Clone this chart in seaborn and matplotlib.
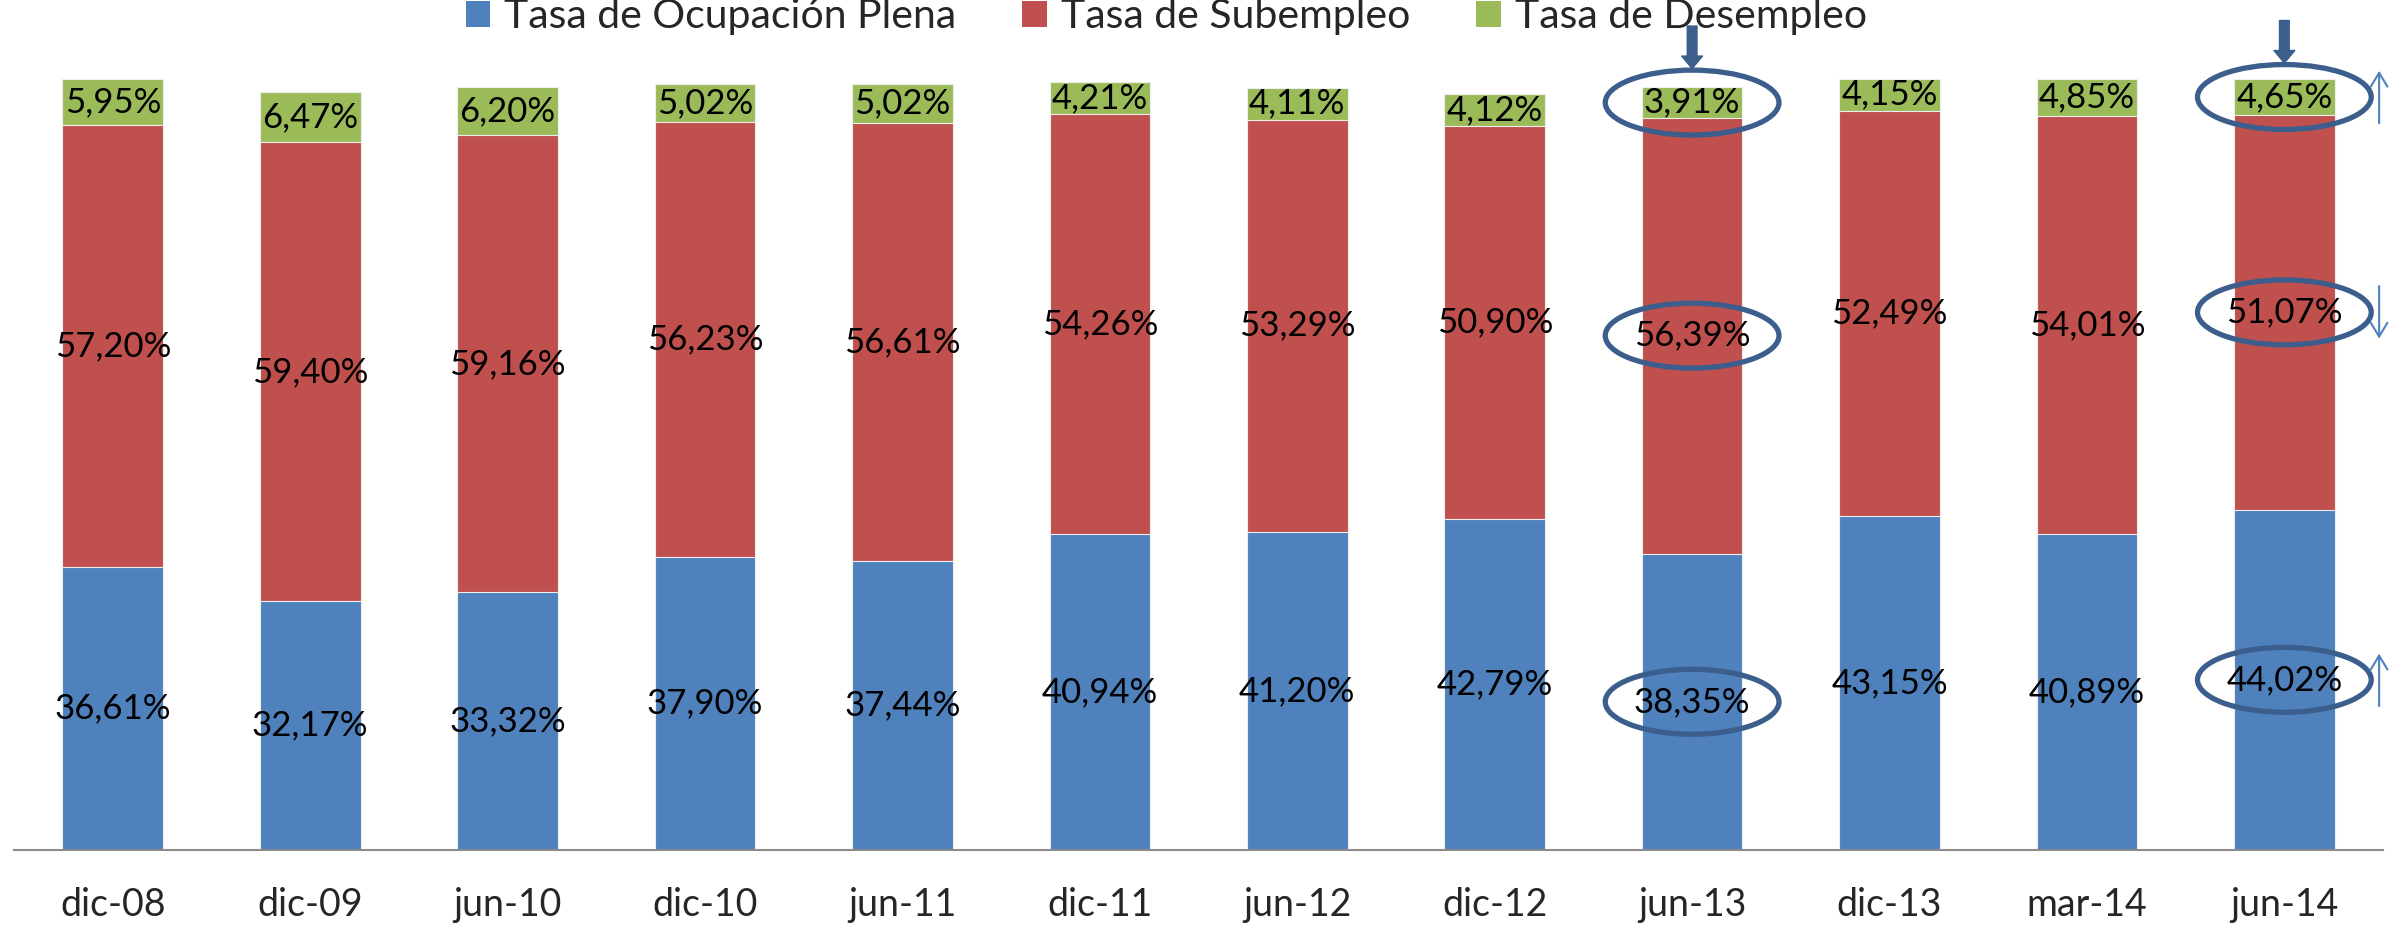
import pandas as pd
import matplotlib.pyplot as plt
import seaborn as sns
from matplotlib.patches import Ellipse, Patch, FancyArrowPatch

# Data
periodos = ["dic-08", "dic-09", "jun-10", "dic-10", "jun-11", "dic-11",
            "jun-12", "dic-12", "jun-13", "dic-13", "mar-14", "jun-14"]
ocupacion_plena = [36.61, 32.17, 33.32, 37.90, 37.44, 40.94,
                   41.20, 42.79, 38.35, 43.15, 40.89, 44.02]
subempleo = [57.20, 59.40, 59.16, 56.23, 56.61, 54.26,
             53.29, 50.90, 56.39, 52.49, 54.01, 51.07]
desempleo = [5.95, 6.47, 6.20, 5.02, 5.02, 4.21,
             4.11, 4.12, 3.91, 4.15, 4.85, 4.65]
series = ["Tasa de Ocupación Plena", "Tasa de Subempleo", "Tasa de Desempleo"]
colores = ["#4F81BD", "#C0504D", "#9BBB59"]
resaltados = ["jun-13", "jun-14"]

df = pd.DataFrame({"periodo": periodos, "plena": ocupacion_plena,
                   "sub": subempleo, "des": desempleo})
df["base_sub"] = df["plena"]
df["base_des"] = df["plena"] + df["sub"]
df["total"] = df["base_des"] + df["des"]

sns.set_style("white")
plt.rcParams["font.family"] = ["Lato", "DejaVu Sans"]

fig = plt.figure(figsize=(23.9, 9.26), dpi=100)
ax = fig.add_axes([0.0059, 0.0821, 0.9912, 0.8347])

# stacked bars: draw cumulative heights from the top down
bw = 0.51
sns.barplot(data=df, x="periodo", y="total", order=periodos, color=colores[2],
            width=bw, edgecolor="#eeeeee", linewidth=0.8, saturation=1, ax=ax)
sns.barplot(data=df, x="periodo", y="base_des", order=periodos, color=colores[1],
            width=bw, edgecolor="#eeeeee", linewidth=0.8, saturation=1, ax=ax)
sns.barplot(data=df, x="periodo", y="plena", order=periodos, color=colores[0],
            width=bw, edgecolor="#eeeeee", linewidth=0.8, saturation=1, ax=ax)

ax.set_xlim(-0.5, len(periodos) - 0.5)
ax.set_ylim(0, 100)
ax.set_xlabel("")
ax.set_ylabel("")
ax.set_yticks([])
for s in ["top", "left", "right"]:
    ax.spines[s].set_visible(False)
ax.spines["bottom"].set_color("#8c8c8c")
ax.spines["bottom"].set_linewidth(1.5)
ax.tick_params(axis="x", length=0, pad=27, labelsize=27)


def fmt(v):
    return f"{v:.2f}".replace(".", ",") + "%"


# data labels centred in each segment
pos = {}
for i, r in df.iterrows():
    centros = [r["plena"] / 2, r["base_sub"] + r["sub"] / 2, r["base_des"] + r["des"] / 2]
    vals = [r["plena"], r["sub"], r["des"]]
    pos[r["periodo"]] = centros
    for c, v in zip(centros, vals):
        ax.text(i, c, fmt(v), ha="center", va="center", fontsize=25, color="black")

# highlight ellipses and arrows
oscuro = "#3B5E8C"
for p in resaltados:
    i = periodos.index(p)
    for c in pos[p]:
        ax.add_patch(Ellipse((i, c), 0.88, 8.4, fill=False, edgecolor=oscuro,
                             lw=3.8, clip_on=False, zorder=5))
    tip = pos[p][2] + 4.4
    ax.add_artist(FancyArrowPatch((i, tip + 5.5), (i, tip),
                                  arrowstyle="simple,head_length=9,head_width=15,tail_width=7",
                                  mutation_scale=1, color=oscuro, shrinkA=0, shrinkB=0,
                                  clip_on=False, zorder=6))

# small arrows at the right edge: direction of change jun-13 -> jun-14
a = periodos.index(resaltados[0])
b = periodos.index(resaltados[1])
cambios = [ocupacion_plena[b] - ocupacion_plena[a],
           subempleo[b] - subempleo[a],
           desempleo[b] - desempleo[a]]
xr = len(periodos) - 0.52
for c, d in zip(pos[resaltados[1]], cambios):
    sgn = 1 if d > 0 else -1
    ax.add_artist(FancyArrowPatch((xr, c - sgn * 3.4), (xr, c + sgn * 3.4),
                                  arrowstyle="->,head_length=0.5,head_width=0.3",
                                  mutation_scale=20, color="#4F81BD", lw=1.5,
                                  shrinkA=0, shrinkB=0, clip_on=False, zorder=6))

handles = [Patch(facecolor=c, edgecolor="none") for c in colores]
fig.legend(handles, series, loc="center", bbox_to_anchor=(0.488, 0.982), ncol=3,
           frameon=False, fontsize=29.5, handlelength=0.6, handleheight=0.6,
           handletextpad=0.35, columnspacing=1.6)

fig.savefig("out.png", dpi=100)
